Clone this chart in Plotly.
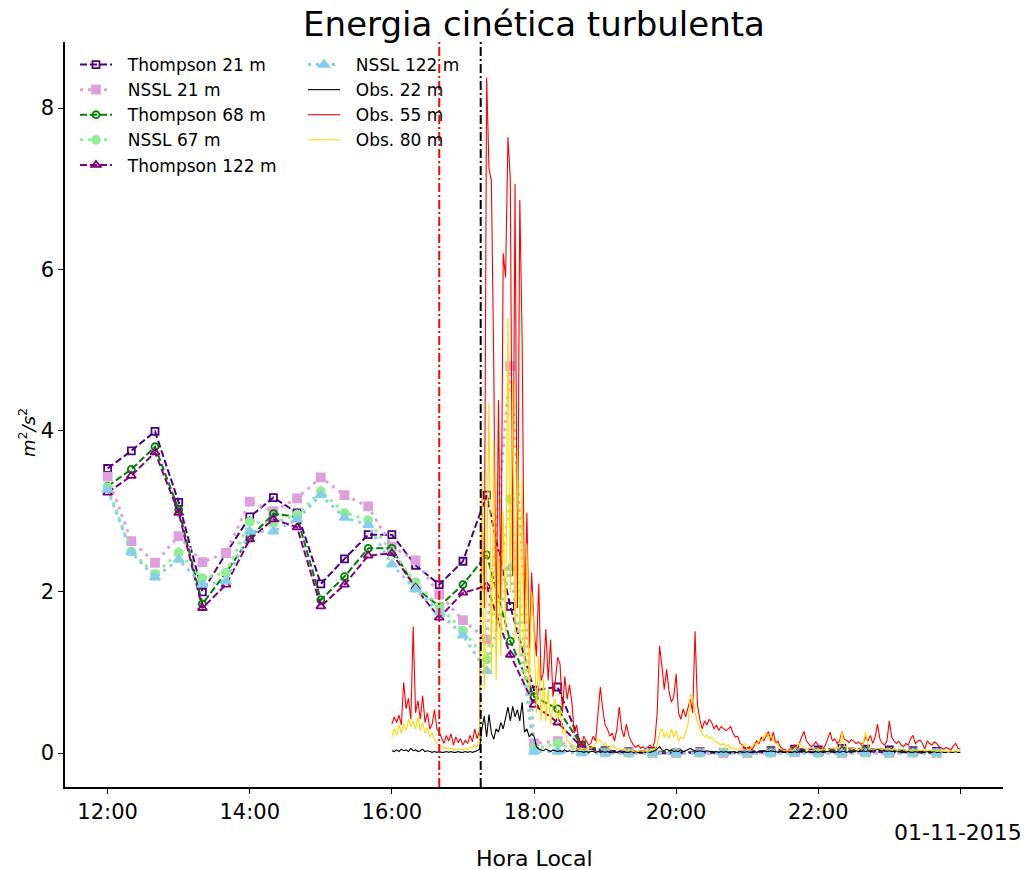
import pandas as pd
import plotly.graph_objects as go

# ---- model output: one value every 20 min from 12:00 to 23:40 ----
model_start = "2015-11-01 12:00"
thompson_21 = [3.53, 3.75, 3.99, 3.11, 2.00, 2.48, 2.93, 3.17, 2.98, 2.10, 2.41, 2.71,
               2.71, 2.33, 2.09, 2.38, 3.20, 1.82, 0.78, 0.82, 0.10, 0.03, 0.02, 0.02,
               0.01, 0.02, 0.01, 0.02, 0.03, 0.05, 0.04, 0.06, 0.05, 0.04, 0.03, 0.02]
nssl_21 = [3.43, 2.63, 2.36, 2.69, 2.37, 2.48, 3.12, 3.00, 3.16, 3.42, 3.20, 3.06,
           2.56, 2.39, 1.97, 1.65, 1.41, 4.80, 0.12, 0.15, 0.04, 0.01, 0.01, 0.00,
           0.00, 0.01, 0.00, 0.00, 0.01, 0.01, 0.01, 0.00, 0.01, 0.00, 0.01, 0.00]
thompson_68 = [3.31, 3.52, 3.80, 3.02, 1.85, 2.24, 2.67, 2.97, 2.93, 1.90, 2.19, 2.54,
               2.54, 2.05, 1.82, 2.09, 2.46, 1.39, 0.70, 0.55, 0.10, 0.02, 0.01, 0.01,
               0.01, 0.01, 0.01, 0.01, 0.02, 0.03, 0.02, 0.03, 0.03, 0.02, 0.02, 0.01]
nssl_67 = [3.30, 2.50, 2.22, 2.49, 2.17, 2.24, 2.87, 2.85, 2.96, 3.25, 2.98, 2.89,
           2.49, 2.12, 1.82, 1.52, 1.16, 3.15, 0.05, 0.12, 0.02, 0.01, 0.00, 0.00,
           0.00, 0.00, 0.01, 0.00, 0.00, 0.01, 0.00, 0.00, 0.01, 0.00, 0.00, 0.00]
thompson_122 = [3.23, 3.44, 3.73, 2.98, 1.80, 2.09, 2.65, 2.90, 2.80, 1.82, 2.09, 2.45,
                2.48, 2.05, 1.68, 1.99, 2.07, 1.22, 0.60, 0.38, 0.08, 0.01, 0.01, 0.00,
                0.00, 0.01, 0.00, 0.01, 0.01, 0.02, 0.01, 0.02, 0.02, 0.01, 0.01, 0.00]
nssl_122 = [3.27, 2.49, 2.18, 2.40, 2.09, 2.13, 2.75, 2.75, 2.90, 3.20, 2.92, 2.83,
            2.34, 2.03, 1.75, 1.46, 1.02, 2.30, 0.02, 0.02, 0.00, 0.00, 0.00, 0.00,
            0.00, 0.00, 0.00, 0.00, 0.00, 0.00, 0.00, 0.00, 0.00, 0.00, 0.00, 0.00]

# ---- tower observations: one value every 2 min from 16:00 to 24:00 ----
obs_start = "2015-11-01 16:00"
obs_22 = [
    0.03, 0.02, 0.04, 0.02, 0.05, 0.03, 0.04, 0.02, 0.06, 0.03,
    0.04, 0.02, 0.03, 0.05, 0.02, 0.03, 0.02, 0.01, 0.02, 0.01,
    0.02, 0.01, 0.01, 0.02, 0.01, 0.02, 0.01, 0.01, 0.02, 0.01,
    0.01, 0.02, 0.01, 0.02, 0.01, 0.02, 0.03, 0.05, 0.30, 0.46,
    0.20, 0.48, 0.25, 0.17, 0.30, 0.26, 0.38, 0.30, 0.45, 0.57,
    0.40, 0.58, 0.45, 0.54, 0.40, 0.63, 0.26, 0.30, 0.20, 0.24,
    0.21, 0.08, 0.05, 0.04, 0.03, 0.05, 0.03, 0.02, 0.04, 0.03,
    0.02, 0.03, 0.02, 0.04, 0.02, 0.03, 0.02, 0.02, 0.03, 0.02,
    0.02, 0.01, 0.02, 0.01, 0.02, 0.02, 0.01, 0.02, 0.01, 0.02,
    0.01, 0.02, 0.01, 0.01, 0.02, 0.01, 0.02, 0.01, 0.02, 0.01,
    0.01, 0.02, 0.01, 0.02, 0.01, 0.01, 0.02, 0.01, 0.02, 0.01,
    0.02, 0.03, 0.05, 0.08, 0.04, 0.03, 0.05, 0.03, 0.04, 0.02,
    0.03, 0.02, 0.04, 0.02, 0.03, 0.05, 0.06, 0.04, 0.03, 0.02,
    0.03, 0.02, 0.02, 0.03, 0.02, 0.02, 0.01, 0.02, 0.01, 0.02,
    0.01, 0.02, 0.01, 0.01, 0.02, 0.01, 0.01, 0.02, 0.01, 0.01,
    0.02, 0.01, 0.01, 0.02, 0.01, 0.02, 0.02, 0.03, 0.02, 0.02,
    0.03, 0.02, 0.02, 0.01, 0.02, 0.01, 0.01, 0.02, 0.01, 0.01,
    0.02, 0.01, 0.02, 0.03, 0.02, 0.01, 0.02, 0.01, 0.01, 0.02,
    0.01, 0.02, 0.01, 0.02, 0.02, 0.03, 0.02, 0.01, 0.02, 0.01,
    0.02, 0.02, 0.01, 0.02, 0.01, 0.02, 0.03, 0.02, 0.02, 0.03,
    0.02, 0.03, 0.02, 0.04, 0.03, 0.05, 0.03, 0.04, 0.03, 0.02,
    0.03, 0.02, 0.02, 0.03, 0.02, 0.01, 0.02, 0.01, 0.02, 0.01,
    0.01, 0.02, 0.01, 0.02, 0.01, 0.01, 0.02, 0.01, 0.01, 0.02,
    0.01, 0.01, 0.02, 0.01, 0.01, 0.02, 0.01, 0.01, 0.02, 0.01,
    0.01,
]
obs_55 = [
    0.36, 0.45, 0.38, 0.47, 0.35, 0.88, 0.55, 0.68, 0.42, 1.57,
    0.50, 0.65, 0.42, 0.71, 0.38, 0.50, 0.30, 0.36, 0.54, 0.30,
    0.26, 0.20, 0.12, 0.22, 0.15, 0.24, 0.10, 0.20, 0.13, 0.18,
    0.10, 0.16, 0.12, 0.22, 0.14, 0.30, 0.18, 0.28, 3.20, 1.80,
    8.38, 7.25, 7.10, 4.85, 1.50, 4.38, 1.90, 6.20, 5.90, 7.64,
    7.12, 2.20, 7.06, 1.80, 6.86, 5.10, 1.60, 2.98, 1.30, 2.24,
    1.57, 1.20, 2.10, 0.90, 1.00, 1.54, 0.90, 1.41, 0.70, 0.90,
    1.19, 1.10, 0.50, 0.95, 0.67, 0.85, 0.63, 0.25, 0.35, 0.15,
    0.09, 0.21, 0.15, 0.10, 0.12, 0.21, 0.15, 0.50, 0.82, 0.55,
    0.35, 0.30, 0.21, 0.25, 0.15, 0.30, 0.57, 0.30, 0.20, 0.36,
    0.22, 0.15, 0.10, 0.07, 0.10, 0.06, 0.08, 0.05, 0.08, 0.10,
    0.06, 0.15, 0.50, 1.33, 1.08, 0.79, 1.04, 0.77, 0.63, 0.70,
    0.98, 0.50, 0.42, 0.55, 0.45, 0.55, 0.67, 0.50, 1.51, 0.60,
    0.42, 0.30, 0.40, 0.35, 0.42, 0.38, 0.30, 0.35, 0.28, 0.33,
    0.30, 0.28, 0.30, 0.33, 0.25, 0.20, 0.21, 0.12, 0.10, 0.06,
    0.05, 0.08, 0.04, 0.10, 0.15, 0.12, 0.20, 0.15, 0.22, 0.27,
    0.15, 0.26, 0.12, 0.15, 0.08, 0.05, 0.04, 0.03, 0.02, 0.05,
    0.10, 0.08, 0.12, 0.20, 0.27, 0.15, 0.12, 0.08, 0.10, 0.14,
    0.10, 0.06, 0.05, 0.10, 0.18, 0.26, 0.15, 0.18, 0.12, 0.15,
    0.27, 0.17, 0.16, 0.13, 0.17, 0.15, 0.12, 0.14, 0.11, 0.13,
    0.20, 0.15, 0.22, 0.12, 0.20, 0.36, 0.18, 0.12, 0.10, 0.15,
    0.40, 0.20, 0.15, 0.12, 0.15, 0.10, 0.08, 0.12, 0.10, 0.18,
    0.22, 0.12, 0.15, 0.16, 0.12, 0.05, 0.15, 0.12, 0.10, 0.14,
    0.12, 0.08, 0.06, 0.05, 0.07, 0.05, 0.04, 0.09, 0.12, 0.06,
    0.05,
]
obs_80 = [
    0.20, 0.30, 0.22, 0.35, 0.25, 0.37, 0.28, 0.42, 0.33, 0.40,
    0.30, 0.45, 0.28, 0.38, 0.25, 0.32, 0.20, 0.25, 0.17, 0.12,
    0.09, 0.08, 0.06, 0.07, 0.05, 0.06, 0.04, 0.05, 0.04, 0.05,
    0.04, 0.06, 0.05, 0.07, 0.06, 0.10, 0.08, 0.18, 3.50, 0.80,
    2.20, 4.35, 1.00, 3.90, 0.90, 2.50, 1.20, 3.00, 1.50, 5.40,
    2.00, 4.63, 1.40, 3.80, 1.20, 3.40, 0.90, 2.60, 0.80, 2.00,
    1.54, 0.50, 1.20, 0.40, 0.92, 0.40, 0.80, 0.35, 0.60, 0.67,
    0.40, 0.55, 0.25, 0.30, 0.15, 0.12, 0.10, 0.08, 0.06, 0.05,
    0.05, 0.06, 0.05, 0.07, 0.06, 0.08, 0.12, 0.17, 0.15, 0.10,
    0.12, 0.08, 0.06, 0.10, 0.07, 0.05, 0.06, 0.04, 0.05, 0.03,
    0.04, 0.03, 0.02, 0.03, 0.02, 0.03, 0.02, 0.03, 0.02, 0.03,
    0.04, 0.05, 0.10, 0.26, 0.30, 0.20, 0.25, 0.18, 0.30, 0.20,
    0.28, 0.15, 0.20, 0.18, 0.25, 0.35, 0.73, 0.70, 0.50, 0.38,
    0.30, 0.25, 0.20, 0.22, 0.18, 0.20, 0.15, 0.14, 0.12, 0.10,
    0.12, 0.08, 0.10, 0.06, 0.07, 0.05, 0.04, 0.05, 0.10, 0.12,
    0.05, 0.04, 0.08, 0.12, 0.10, 0.15, 0.14, 0.21, 0.26, 0.18,
    0.22, 0.15, 0.12, 0.10, 0.05, 0.04, 0.03, 0.03, 0.04, 0.03,
    0.05, 0.08, 0.12, 0.10, 0.06, 0.05, 0.04, 0.03, 0.04, 0.05,
    0.03, 0.04, 0.05, 0.04, 0.03, 0.05, 0.06, 0.05, 0.08, 0.06,
    0.27, 0.10, 0.06, 0.07, 0.05, 0.06, 0.05, 0.04, 0.06, 0.12,
    0.26, 0.10, 0.05, 0.04, 0.05, 0.06, 0.05, 0.04, 0.06, 0.05,
    0.05, 0.04, 0.05, 0.04, 0.03, 0.05, 0.04, 0.03, 0.04, 0.03,
    0.04, 0.03, 0.04, 0.03, 0.04, 0.03, 0.03, 0.04, 0.03, 0.03,
    0.02, 0.03, 0.02, 0.03, 0.02, 0.02, 0.03, 0.02, 0.03, 0.02,
    0.02,
]

# event markers (vertical dash-dot lines)
event_red = "2015-11-01 16:40"
event_black = "2015-11-01 17:15"

tick_times = pd.date_range("2015-11-01 12:00", "2015-11-02 00:00", freq="2h")
tick_labels = ["12:00", "14:00", "16:00", "18:00", "20:00", "22:00", ""]
date_label = "01-11-2015"

model_times = pd.date_range(model_start, periods=len(thompson_21), freq="20min")
obs_times = pd.date_range(obs_start, periods=len(obs_55), freq="2min")

FONT = "DejaVu Sans"
GAP = "\u00a0\u00a0"  # small gap between legend swatch and label
fig = go.Figure()

model_series = [
    ("Thompson 21 m", thompson_21, "#4B0082", "square-open", "7px,3px", 2, 7, "legend"),
    ("NSSL 21 m", nssl_21, "#DDA0DD", "square", "3px,5px", 3, 8, "legend"),
    ("Thompson 68 m", thompson_68, "#008000", "circle-open", "7px,3px", 2, 7, "legend"),
    ("NSSL 67 m", nssl_67, "#90EE90", "circle", "3px,5px", 3, 8, "legend"),
    ("Thompson 122 m", thompson_122, "#800080", "triangle-up-open", "7px,3px", 2, 8, "legend"),
    ("NSSL 122 m", nssl_122, "#87CEEB", "triangle-up", "3px,5px", 3, 9, "legend2"),
]
for name, vals, color, symbol, dash, lw, ms, leg in model_series:
    fig.add_trace(go.Scatter(
        x=model_times, y=vals, name=GAP + name, mode="lines+markers", legend=leg,
        line=dict(color=color, width=lw, dash=dash),
        marker=dict(symbol=symbol, size=ms, color=color, line=dict(color=color, width=1.8)),
    ))

obs_series = [
    ("Obs. 22 m", obs_22, "black"),
    ("Obs. 55 m", obs_55, "red"),
    ("Obs. 80 m", obs_80, "#FFD700"),
]
for name, vals, color in obs_series:
    fig.add_trace(go.Scatter(
        x=obs_times, y=vals, name=GAP + name, mode="lines", legend="legend2",
        line=dict(color=color, width=1.1),
    ))

for when, color in [(event_red, "red"), (event_black, "black")]:
    fig.add_shape(type="line", xref="x", yref="paper", x0=when, x1=when, y0=0, y1=1,
                  line=dict(color=color, width=2, dash="9px,3px,2px,3px"))

plot_l, plot_r, plot_t, plot_b = 65, 1003, 42, 787
W, H = 1030, 870
pw, ph = plot_r - plot_l, plot_b - plot_t

def px_x(p):
    return (p - plot_l) / pw

def px_y(p):
    return (plot_b - p) / ph

legend_style = dict(xanchor="left", yanchor="top", bgcolor="rgba(0,0,0,0)",
                    font=dict(size=17, family=FONT), tracegroupgap=0, itemwidth=32)

fig.update_layout(
    width=W, height=H,
    margin=dict(l=plot_l, r=W - plot_r, t=plot_t, b=H - plot_b, pad=0),
    paper_bgcolor="white", plot_bgcolor="white",
    font=dict(family=FONT, color="black", size=21),
    title=dict(text="Energia cinética turbulenta", x=0.5, xref="paper", xanchor="center",
               y=1 - 24 / H, yref="container", yanchor="middle",
               font=dict(size=34, family=FONT, color="black")),
    xaxis=dict(
        type="date",
        range=["2015-11-01 11:24", "2015-11-02 00:36"],
        tickvals=list(tick_times), ticktext=tick_labels,
        showgrid=False, zeroline=False,
        showline=True, linecolor="black", linewidth=1.6,
        ticks="outside", ticklen=5, tickwidth=1.3, tickcolor="black",
        tickfont=dict(size=21, family=FONT),
    ),
    yaxis=dict(
        range=[-0.42, 8.82],
        tickvals=[0, 2, 4, 6, 8],
        showgrid=False, zeroline=False,
        showline=True, linecolor="black", linewidth=1.6,
        ticks="outside", ticklen=5, tickwidth=1.3, tickcolor="black",
        tickfont=dict(size=21, family=FONT),
    ),
    legend=dict(x=px_x(75), y=px_y(47), **legend_style),
    legend2=dict(x=px_x(303), y=px_y(47), **legend_style),
    showlegend=True,
)

fig.add_annotation(text="Hora Local", xref="paper", yref="paper", x=0.5, y=px_y(858),
                   xanchor="center", yanchor="middle", showarrow=False,
                   font=dict(size=22, family=FONT))
fig.add_annotation(text=date_label, xref="paper", yref="paper", x=px_x(1024), y=px_y(832),
                   xanchor="right", yanchor="middle", showarrow=False,
                   font=dict(size=22, family=FONT))
fig.add_annotation(text="<i>m</i><sup>2</sup><i>/s</i><sup>2</sup>", xref="paper", yref="paper",
                   x=px_x(27), y=px_y(433), xanchor="center", yanchor="middle",
                   textangle=-90, showarrow=False, font=dict(size=18, family=FONT))

fig.write_html("out.html")
